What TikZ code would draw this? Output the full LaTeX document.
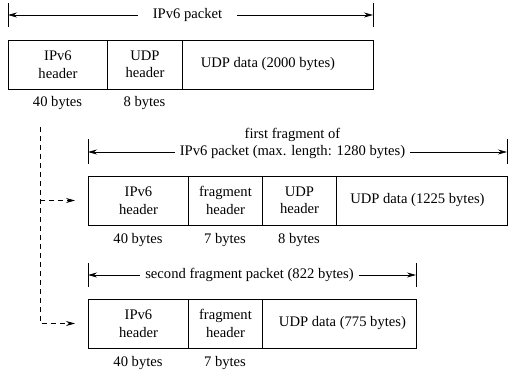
\documentclass[tikz,border=0pt]{standalone}
\usepackage{fontspec}
\setmainfont{Liberation Serif}
\usetikzlibrary{arrows.meta}
\begin{document}
\begin{tikzpicture}[x=1pt,y=-1pt,
  every node/.style={font=\fontsize{14.6}{17.5}\selectfont},
  cell/.style={draw,line width=0.9pt,minimum height=49pt,inner sep=0pt,align=center,anchor=west},
  lbl/.style={inner sep=0pt},
  dim/.style={line width=0.7pt,-{Stealth[length=9pt,width=5pt,inset=3pt]}},
  bar/.style={line width=0.9pt},
  dsh/.style={line width=0.7pt,dash pattern=on 5pt off 4pt,-{Stealth[length=9pt,width=5pt,inset=3pt]}}]
\useasboundingbox (0,0) rectangle (508,374);
% Row 1
\node[cell,minimum width=99pt] (a1) at (8,64.5) {IPv6\\header};
\node[cell,minimum width=75pt] (a2) at (107,64.5) {UDP\\header};
\node[cell,minimum width=191pt] (a3) at (182,64.5) {UDP data (2000 bytes)\hspace*{20pt}};
\node[lbl] (a1b) at (57.5,103) {40 bytes};
\node[lbl] (a2b) at (144.5,103) {8 bytes};
\coordinate (p1l) at (8,15); \coordinate (p1r) at (373,15);
\draw[bar] (8,3) -- (8,27); \draw[bar] (373,3) -- (373,27);
\node[lbl,inner xsep=15pt] (t0) at (187.5,15) {IPv6 packet};
\draw[dim] (t0.west) -- (p1l);
\draw[dim] (t0.east) -- (p1r);
% Row 2
\node[cell,minimum width=100pt] (b1) at (88,200.5) {IPv6\\header};
\node[cell,minimum width=74pt] (b2) at (188,200.5) {fragment\\header};
\node[cell,minimum width=74pt] (b3) at (262,200.5) {UDP\\header};
\node[cell,minimum width=171pt] (b4) at (336,200.5) {UDP data (1225 bytes)\hspace*{9pt}};
\node[lbl] (b1b) at (138,240) {40 bytes};
\node[lbl] (b2b) at (225,240) {7 bytes};
\node[lbl] (b3b) at (299,240) {8 bytes};
\node[lbl] (t1a) at (292.5,135) {first fragment of};
\node[lbl,inner xsep=5pt] (t1b) at (292.5,152) {IPv6 packet (max. length: 1280 bytes)};
\coordinate (p2l) at (88,152); \coordinate (p2r) at (507,152);
\draw[bar] (88,139) -- (88,164); \draw[bar] (507,139) -- (507,164);
\draw[dim] (t1b.west) -- (p2l);
\draw[dim] (t1b.east) -- (p2r);
% Row 3
\node[cell,minimum width=100pt] (c1) at (88,323.5) {IPv6\\header};
\node[cell,minimum width=74pt] (c2) at (188,323.5) {fragment\\header};
\node[cell,minimum width=154pt] (c3) at (262,323.5) {\hspace*{6pt}UDP data (775 bytes)};
\node[lbl] (c1b) at (138,363) {40 bytes};
\node[lbl] (c2b) at (225,363) {7 bytes};
\node[lbl,inner xsep=5pt] (t2) at (249.5,275) {second fragment packet (822 bytes)};
\coordinate (p3l) at (88,275); \coordinate (p3r) at (416,275);
\draw[bar] (88,263) -- (88,287); \draw[bar] (416,263) -- (416,287);
\draw[dim] (t2.west) -- (p3l);
\draw[dim] (t2.east) -- (p3r);
% dashed connectors
\coordinate (ds) at (40,127);
\coordinate (dm) at (40,200.5);
\draw[dsh] (ds) |- ([xshift=-13pt]c1.west);
\draw[dsh] (dm) -- ([xshift=-13pt]b1.west);
\end{tikzpicture}
\end{document}
